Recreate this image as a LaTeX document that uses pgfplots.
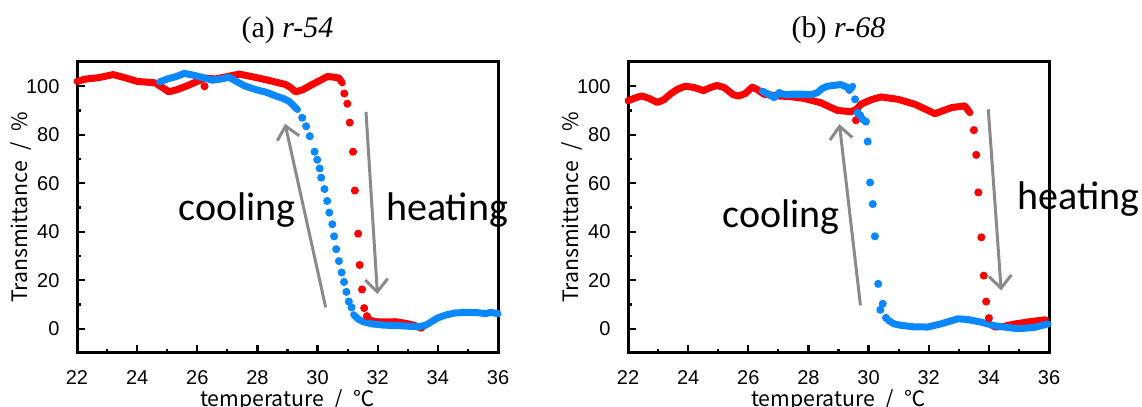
\documentclass[border=0pt]{standalone}
\usepackage{fontspec}
\setmainfont{Liberation Serif}
\newfontfamily\tickfont{Liberation Sans}
\newfontfamily\jpfont{Noto Sans CJK JP}
\newfontfamily\calfont{Carlito}
\usepackage{pgfplots}
\pgfplotsset{compat=1.18}
\usetikzlibrary{arrows.meta}
\definecolor{heatRed}{HTML}{FF0000}
\definecolor{coolBlue}{HTML}{0A88FF}
\definecolor{arrowGrey}{HTML}{8A8A8A}

\pgfplotsset{
  tpanel/.style={
    scale only axis, width=168.4pt, height=116.4pt,
    xmin=22, xmax=36, ymin=-10, ymax=110,
    xtick={22,24,...,36}, ytick={0,20,...,100},
    minor xtick={23,25,...,35}, minor ytick={10,30,...,90},
    tick align=inside, xtick pos=bottom, ytick pos=left,
    major tick length=3pt, minor tick length=1.6pt,
    axis line style={line width=1.2pt},
    tick style={black, line width=0.9pt},
    /pgf/number format/assume math mode=true,
    ticklabel style={font=\tickfont\fontsize{8}{9}\selectfont},
    xticklabel style={yshift=-3.4pt},
    yticklabel style={xshift=-3.5pt},
    xlabel={temperature\enspace/\enspace℃}, ylabel={Transmittance\enspace/\enspace\%},
    label style={font=\jpfont\fontsize{8.5}{10}\selectfont},
    xlabel style={at={(axis description cs:0.5,-0.162)}, anchor=center},
    ylabel style={at={(axis description cs:-0.133,0.5)}, anchor=center},
    title style={font=\fontsize{12}{14}\selectfont, at={(0.5,1)}, anchor=center, yshift=6.8pt},
    clip=false,
  },
  dense/.style={line width=2.8pt, line cap=round, line join=round, no markers},
  dots/.style={only marks, mark=*, mark size=1.4pt},
}
\tikzset{
  arr/.style={arrowGrey, line width=1.2pt, -{Straight Barb[length=5pt,width=9pt]}},
  lab/.style={font=\calfont\fontsize{16}{18}\selectfont},
}

\begin{document}
\begin{tikzpicture}
% (a) r-54
\begin{axis}[tpanel, title={(a) \textit{r-54}}]
% heating
\addplot[dense, heatRed] coordinates {
  (22.0,102) (22.3,103) (22.7,103.5) (23.2,104.8) (23.6,103.5) (24.0,102)
  (24.6,101.4) (24.9,99) (25.05,97.7) (25.3,98.5) (25.63,100) (26.0,102)
  (26.24,103.4) (26.6,103) (27.0,104) (27.4,105) (27.8,104) (28.28,102.7)
  (28.94,100.7) (29.1,99.5) (29.27,97.7) (29.5,98.5) (29.82,100.7) (30.1,102.5)
  (30.32,104) (30.5,103.8) (30.71,103.4) (30.82,101.4)
};
\addplot[dots, heatRed] coordinates {
  (26.24,100) (30.89,97) (30.99,92.8) (31.07,85) (31.18,73) (31.24,57) (31.35,39.2)
  (31.40,26.3) (31.48,16.2) (31.55,8.5) (31.64,5.2)
};
\addplot[dense, heatRed] coordinates {
  (31.7,3.8) (31.8,3.3) (32.0,2.8) (32.3,2.8) (32.58,2.9) (32.9,2.3)
  (33.2,1.5) (33.46,0.2)
};
% cooling
\addplot[dense, coolBlue] coordinates {
  (24.75,101.8) (25.0,103) (25.3,104) (25.57,105.3) (25.9,104.5) (26.2,103.5)
  (26.5,102.5) (26.8,103) (27.06,103.7) (27.3,102) (27.6,100) (27.95,98.6)
  (28.3,97.5) (28.61,96) (28.85,95) (29.05,93.8) (29.2,92) (29.33,90.4)
};
\addplot[dots, coolBlue] coordinates {
  (29.49,87) (29.62,83.5) (29.74,79.4) (29.9,73) (29.99,69.7) (30.07,66.1)
  (30.12,62.3) (30.23,57.6) (30.32,52.7) (30.39,47.9) (30.49,43.1) (30.55,38.1)
  (30.62,32.8) (30.71,27.9) (30.8,23.2) (30.88,19.3) (30.96,15.2) (31.04,11.2)
  (31.13,8.8)
};
\addplot[dense, coolBlue] coordinates {
  (31.2,5.8) (31.35,4) (31.5,3) (31.8,2) (32.2,1.5) (32.8,1.2) (33.35,0.8)
  (33.6,1.5) (34.0,4.5) (34.3,5.8) (34.57,6.5) (35.0,6.8) (35.34,6.6)
  (35.6,6.2) (35.75,6.8) (36.0,6.2)
};
\draw[arr] (axis cs:30.27,8.8) -- (axis cs:28.92,84.5);
\draw[arr] (axis cs:31.61,89.4) -- (axis cs:31.99,14.3);
\node[lab] at (axis cs:27.32,49) {cooling};
\node[lab] at (axis cs:34.31,49) {heating};
\end{axis}

% (b) r-68
\begin{axis}[tpanel, at={(220.4pt,0)}, title={(b) \textit{r-68}}]
% heating
\addplot[dense, heatRed] coordinates {
  (22.0,94) (22.2,95) (22.45,96) (22.7,95) (22.98,93.3) (23.2,94.5) (23.4,96.7)
  (23.65,98.8) (23.9,100) (24.2,99.5) (24.51,98.2) (24.75,99.5) (24.96,100.3)
  (25.2,99.5) (25.35,98) (25.5,96.5) (25.68,96) (25.9,97) (26.13,99.6)
  (26.29,98.7) (26.52,96.7) (27.0,96) (27.4,95.7) (27.85,95) (28.41,93.2)
  (28.7,91.5) (28.97,90) (29.42,89.5) (29.6,90.5) (29.75,92.6) (30.1,94.5)
  (30.42,95.6) (30.98,94.6) (31.53,92.6) (31.9,90.5) (32.2,88.7) (32.5,90)
  (32.76,91.2) (33.2,91.9) (33.37,89.1)
};
\addplot[dots, heatRed] coordinates {
  (29.58,86) (33.5,81.9) (33.58,71.7) (33.65,56.2) (33.75,37.7) (33.83,21.9)
  (33.91,11.2) (34.0,4.4)
};
\addplot[dense, heatRed] coordinates {
  (34.1,1.5) (34.21,0.7) (34.5,1) (34.88,2) (35.3,2.8) (35.88,3.7)
};
% cooling
\addplot[dense, coolBlue] coordinates {
  (26.47,98) (26.7,96.5) (26.86,95.3) (27.03,97.4) (27.2,96.5) (27.41,96.7)
  (27.85,96.7) (28.1,96.5) (28.3,97.4) (28.45,99) (28.63,100) (29.08,100.7)
  (29.3,99.5) (29.36,98.2) (29.47,100)
};
\addplot[dots, coolBlue] coordinates {
  (29.55,94.6) (29.64,89.1) (29.72,88) (29.8,86.4) (29.91,85.4) (29.97,77.2)
  (30.05,60.3) (30.14,51.4) (30.21,38.1) (30.32,18.5) (30.39,7.8) (30.47,10.3)
  (30.58,4.5)
};
\addplot[dense, coolBlue] coordinates {
  (30.65,3.5) (30.85,2) (31.08,1.4) (31.5,0.8) (31.97,0.7) (32.4,2)
  (32.97,4.1) (33.3,3.8) (33.75,2.7) (34.2,1.2) (34.97,0) (35.5,0.5) (35.97,2)
};
\draw[arr] (axis cs:29.73,9.6) -- (axis cs:29.03,84.4);
\draw[arr] (axis cs:33.98,90.5) -- (axis cs:34.41,15.8);
\node[lab] at (axis cs:27.1,46) {cooling};
\node[lab] at (axis cs:36.99,53.5) {heating};
\end{axis}
\pgfresetboundingbox
\useasboundingbox (-30.8pt,-21.6pt) rectangle (426pt,141.2pt);
\end{tikzpicture}
\end{document}
